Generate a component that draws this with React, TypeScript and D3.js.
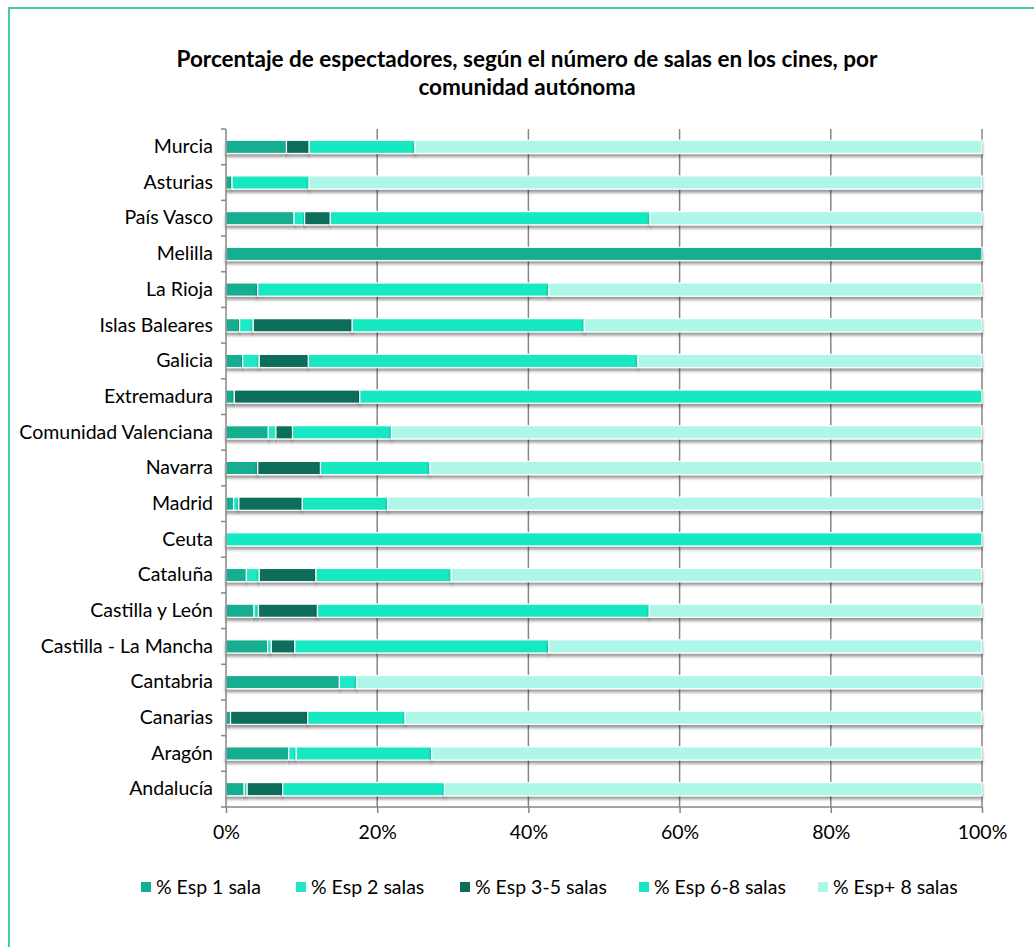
import React, { useEffect, useRef } from 'react';
import * as d3 from 'd3';

// Comunidades, de arriba abajo
const comunidades = [
  'Murcia', 'Asturias', 'País Vasco', 'Melilla', 'La Rioja', 'Islas Baleares',
  'Galicia', 'Extremadura', 'Comunidad Valenciana', 'Navarra', 'Madrid', 'Ceuta',
  'Cataluña', 'Castilla y León', 'Castilla - La Mancha', 'Cantabria', 'Canarias',
  'Aragón', 'Andalucía'
];

const esp1 = [8, 0.8, 9, 100, 4.2, 1.8, 2.2, 1.1, 5.6, 4.2, 1.0, 0, 2.7, 3.7, 5.5, 15, 0.6, 8.3, 2.4];
const esp2 = [0, 0, 1.4, 0, 0, 1.8, 2.2, 0, 1.0, 0, 0.7, 0, 1.7, 0.6, 0.5, 2.3, 0, 1.0, 0.4];
const esp35 = [3, 0, 3.4, 0, 0, 13.1, 6.5, 16.6, 2.2, 8.3, 8.4, 0, 7.5, 7.8, 3.1, 0, 10.2, 0, 4.7];
const esp68 = [14, 10.2, 42.3, 0, 38.5, 30.7, 43.6, 82.3, 13.1, 14.5, 11.3, 100, 17.9, 43.9, 33.6, 0, 12.9, 17.9, 21.4];
const espMas8 = [75, 89, 43.9, 0, 57.3, 52.6, 45.5, 0, 78.1, 73, 78.6, 0, 70.2, 44, 57.3, 82.7, 76.3, 72.8, 71.1];

const series = ['% Esp 1 sala', '% Esp 2 salas', '% Esp 3-5 salas', '% Esp 6-8 salas', '% Esp+ 8 salas'];
const colores = ['#12AE90', '#1CEAC7', '#0B6E5C', '#14E8C2', '#ACF7E8'];
const ticks = [0, 20, 40, 60, 80, 100];

export default function App() {
  const ref = useRef<SVGSVGElement>(null);

  useEffect(() => {
    const svg = d3.select(ref.current);
    svg.selectAll('*').remove();

    const left = 226, right = 982, top = 129, bottom = 807;
    const font = 'Lato, "Open Sans", sans-serif';

    const valores = [esp1, esp2, esp35, esp68, espMas8];
    const filas = comunidades.map((c, i) => {
      const row: any = { comunidad: c };
      series.forEach((s, k) => (row[s] = valores[k][i]));
      return row;
    });
    const stacked = d3.stack().keys(series)(filas);

    const x = d3.scaleLinear().domain([0, 100]).range([left, right]);
    const y = d3.scaleBand().domain(comunidades).range([top, bottom])
      .paddingInner(0.63).paddingOuter(0.315);

    // shadow under bars
    const defs = svg.append('defs');
    const f = defs.append('filter').attr('id', 'sombra')
      .attr('x', '-5%').attr('y', '-50%').attr('width', '110%').attr('height', '250%');
    f.append('feDropShadow').attr('dx', 0).attr('dy', 3).attr('stdDeviation', 1.8)
      .attr('flood-color', '#000').attr('flood-opacity', 0.4);

    // frame
    svg.append('rect').attr('x', 9).attr('y', 8).attr('width', 1100).attr('height', 1000)
      .attr('fill', '#fff').attr('stroke', '#3ED0AA').attr('stroke-width', 2);

    // title
    const title = svg.append('text').attr('text-anchor', 'middle')
      .style('font-family', font).style('font-weight', 'bold').style('font-size', '22.5px').attr('fill', '#000');
    title.append('tspan').attr('x', 527).attr('y', 67)
      .text('Porcentaje de espectadores, según el número de salas en los cines, por');
    title.append('tspan').attr('x', 527).attr('y', 95).text('comunidad autónoma');

    // gridlines
    svg.append('g').selectAll('line').data(ticks.slice(1)).enter().append('line')
      .attr('x1', d => x(d)).attr('x2', d => x(d)).attr('y1', top).attr('y2', bottom)
      .attr('stroke', '#868686').attr('stroke-width', 1.5);

    // bars
    svg.append('g').selectAll('g').data(stacked).enter().append('g')
      .attr('fill', (d, i) => colores[i])
      .selectAll('rect').data(d => d.filter(s => s[1] - s[0] > 0)).enter().append('rect')
      .attr('x', d => x(d[0]))
      .attr('y', d => y((d.data as any).comunidad)!)
      .attr('width', d => x(d[1]) - x(d[0]))
      .attr('height', y.bandwidth())
      .attr('stroke', '#fff').attr('stroke-width', 1.2)
      .attr('filter', 'url(#sombra)');

    // y axis
    const yAxis = d3.axisLeft(y).tickSize(0).tickPadding(13);
    const gy = svg.append('g').attr('transform', `translate(${left},0)`).call(yAxis);
    gy.select('.domain').remove();
    gy.selectAll('text').style('font-family', font).style('font-size', '19.5px').attr('fill', '#000');
    const bounds = d3.range(comunidades.length + 1).map(i => top + i * y.step());
    svg.append('g').selectAll('line').data(bounds).enter().append('line')
      .attr('x1', left - 5).attr('x2', left).attr('y1', d => d).attr('y2', d => d)
      .attr('stroke', '#868686').attr('stroke-width', 1.5);
    svg.append('line').attr('x1', left).attr('x2', left).attr('y1', top).attr('y2', bottom)
      .attr('stroke', '#868686').attr('stroke-width', 1.5);

    // x axis
    const xAxis = d3.axisBottom(x).tickValues(ticks).tickFormat(d => d + '%').tickSize(6).tickPadding(12);
    const gx = svg.append('g').attr('transform', `translate(0,${bottom})`).call(xAxis);
    gx.select('.domain').attr('stroke', '#868686').attr('stroke-width', 1.5).attr('d', `M${left},0H${right}`);
    gx.selectAll('line').attr('stroke', '#868686').attr('stroke-width', 1.5);
    gx.selectAll('text').style('font-family', font).style('font-size', '19.5px').attr('fill', '#000');

    // legend
    const legX = [141, 296, 460, 639, 818];
    const leg = svg.append('g').selectAll('g').data(series).enter().append('g')
      .attr('transform', (d, i) => `translate(${legX[i]},887)`);
    leg.append('rect').attr('x', 0).attr('y', -5).attr('width', 10).attr('height', 10)
      .attr('fill', (d, i) => colores[i]);
    leg.append('text').attr('x', 15).attr('y', 7).text(d => d)
      .style('font-family', font).style('font-size', '19.5px').attr('fill', '#000');
  }, []);

  return (
    <svg ref={ref} width={1034} height={947}
      style={{ position: 'absolute', left: 0, top: 0, background: '#fff' }} />
  );
}
